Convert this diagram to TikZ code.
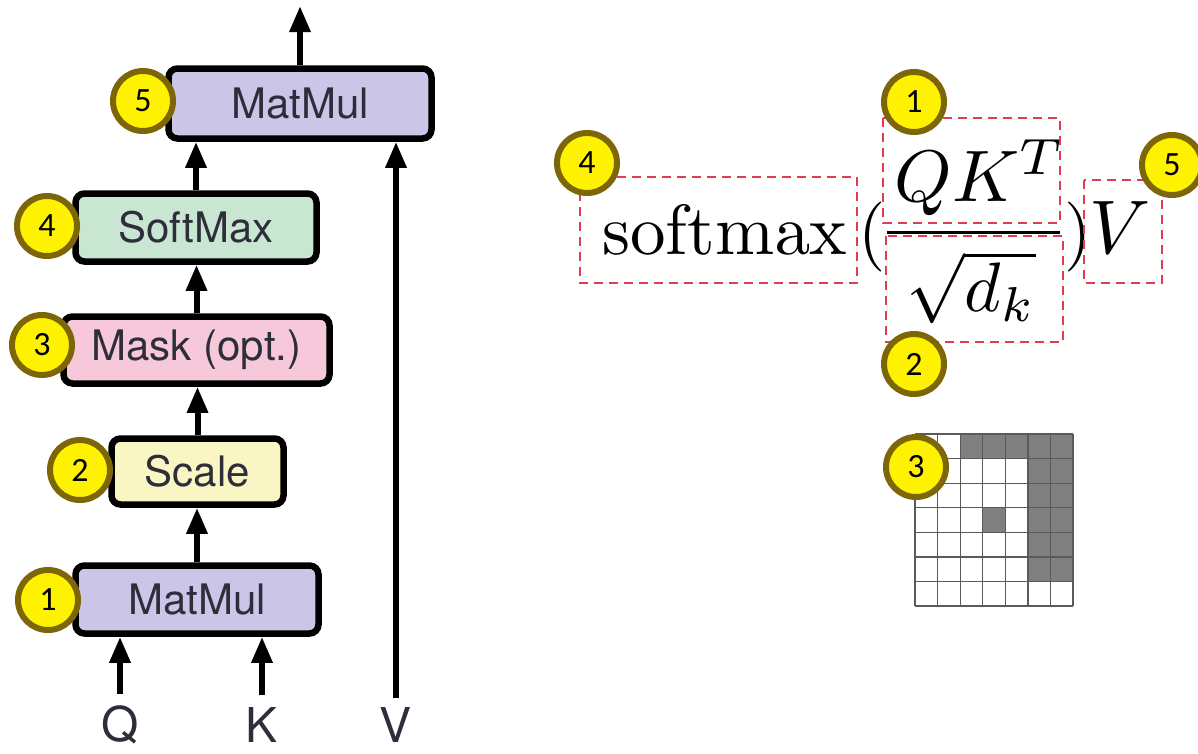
\documentclass[tikz,border=0pt]{standalone}
\usepackage[no-math]{fontspec}
\setmainfont{TeX Gyre Heros}
\newfontfamily\badgefont{Carlito}
\usetikzlibrary{arrows.meta}

\definecolor{mmfill}{HTML}{CBC5E8}
\definecolor{smfill}{HTML}{C9E6D2}
\definecolor{mkfill}{HTML}{F6C8DA}
\definecolor{scfill}{HTML}{FAF6C4}
\definecolor{badgefill}{HTML}{FFF200}
\definecolor{badgeedge}{HTML}{7D6608}
\definecolor{boxtext}{HTML}{2E2E3A}
\definecolor{hl}{HTML}{E23A50}
\definecolor{cellgray}{HTML}{808080}
\definecolor{gridline}{HTML}{5A5A5A}

\begin{document}
\begin{tikzpicture}[x=1pt,y=-1pt,
  block/.style={draw=black, line width=6.5pt, rounded corners=9pt, inner sep=0pt,
    text=boxtext, font=\fontsize{42}{46}\selectfont},
  badge/.style={circle, draw=badgeedge, fill=badgefill, line width=6pt,
    minimum size=60pt, inner sep=0pt, text=black,
    font=\badgefont\fontsize{34}{36}\selectfont},
  arr/.style={line width=6pt, -{Triangle[width=20pt,length=26pt]}},
  inlabel/.style={font=\fontsize{48}{52}\selectfont, inner sep=0pt, text=boxtext},
  hlbox/.style={draw=hl, line width=2.6pt, dash pattern=on 9pt off 6pt},
  math/.style={inner sep=0pt, anchor=base west}]

\useasboundingbox (0,0) rectangle (1198,753);
\clip (0,0) rectangle (1198,753);

% ---------- attention block ----------
\node[block, fill=mmfill, minimum width=263pt, minimum height=70pt] (mm2) at (300,103.5) {MatMul};
\node[block, fill=smfill, minimum width=241pt, minimum height=68pt] (sm) at (196,227.5) {SoftMax};
\node[block, fill=mkfill, minimum width=266pt, minimum height=67pt] (mk) at (196.5,350) {Mask (opt.)};
\node[block, fill=scfill, minimum width=172pt, minimum height=66pt] (sc) at (197.5,471.5) {Scale};
\node[block, fill=mmfill, minimum width=243pt, minimum height=68pt] (mm1) at (197,599.5) {MatMul};

\node[inlabel] (q) at (120,725) {Q};
\node[inlabel] (k) at (262,725) {K};
\node[inlabel] (v) at (396,725) {V};

\coordinate (out) at (300,6);
\draw[arr] (mm2.north) -- (out);
\draw[arr] (sm.north) -- (sm.north |- mm2.south);
\draw[arr] (mk.north) -- (mk.north |- sm.south);
\draw[arr] (sc.north) -- (sc.north |- mk.south);
\draw[arr] (mm1.north) -- (mm1.north |- sc.south);
\draw[arr] ([yshift=12pt]q.north) -- (q.north |- mm1.south);
\draw[arr] ([yshift=12pt]k.north) -- (k.north |- mm1.south);
\draw[arr] ([yshift=9pt]v.north) -- (v.north |- mm2.south);

\node[badge] (b5) at (143,101) {5};
\node[badge] (b4) at (47,226) {4};
\node[badge] (b3) at (42,345) {3};
\node[badge] (b2) at (80,470) {2};
\node[badge] (b1) at (48,600) {1};

% ---------- formula ----------
\node[math, scale=7.1] (smx) at (601,254) {$\mathrm{softmax}$};
\node[math, scale=7.0] (lp) at (857,254) {$($};
\node[math, scale=7.3] (num) at (893,201) {$QK^T$};
\draw[line width=3pt] (887,232) -- (1060,232);
\node[math, scale=7.0] (den) at (905,311) {$\sqrt{d_k}$};
\node[math, scale=7.0] (rp) at (1063,254) {$)$};
\node[math, scale=7.6] (vv) at (1088,253) {$V$};

\draw[hlbox] (580,177) rectangle (857,283);
\draw[hlbox] (883,118) rectangle (1060,223);
\draw[hlbox] (886,236) rectangle (1063,342);
\draw[hlbox] (1084,180) rectangle (1162,283);

\node[badge] (f4) at (587,163) {4};
\node[badge] (f1) at (914,102) {1};
\node[badge] (f2) at (914,364) {2};
\node[badge] (f5) at (1172,165) {5};

% ---------- mask grid ----------
\foreach \c/\r in {2/0,3/0,4/0,5/0,6/0,5/1,6/1,5/2,6/2,5/3,6/3,5/4,6/4,5/5,6/5,3/3}
  \fill[cellgray] (915+\c*22.57,434+\r*24.57) rectangle (915+\c*22.57+22.57,434+\r*24.57+24.57);
\foreach \i in {0,...,7} {
  \draw[gridline, line width=1.3pt] (915+\i*22.57,434) -- (915+\i*22.57,606);
  \draw[gridline, line width=1.3pt] (915,434+\i*24.57) -- (1073,434+\i*24.57);
}
\node[badge] (g3) at (916,467) {3};
\end{tikzpicture}
\end{document}
